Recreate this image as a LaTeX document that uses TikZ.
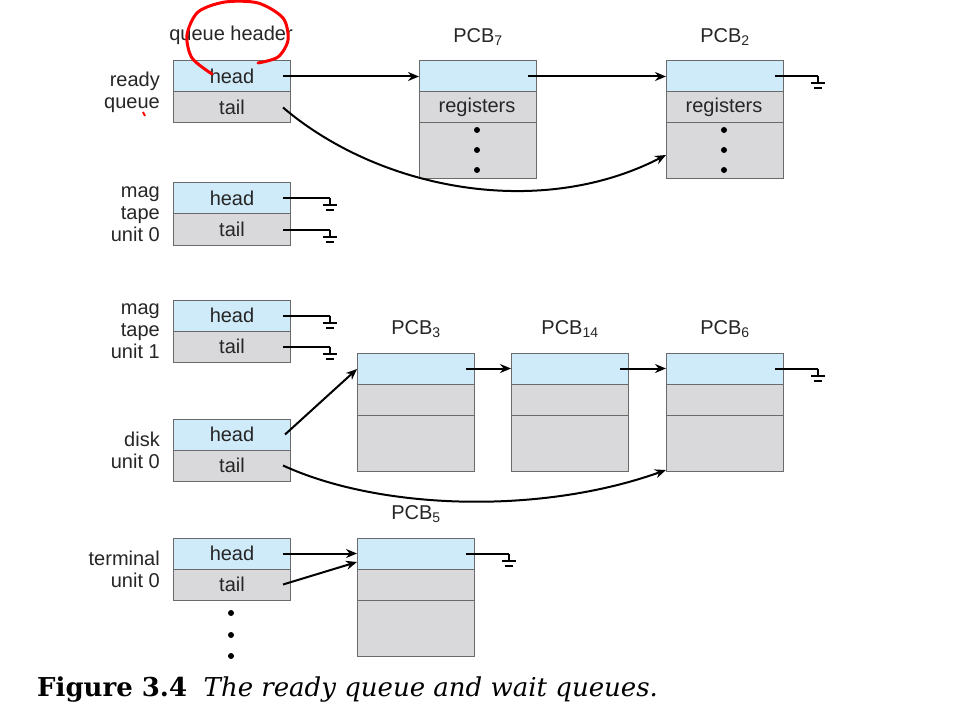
\documentclass[tikz,border=0pt]{standalone}
\usepackage{fontspec}
\setmainfont{Liberation Sans}
\newfontfamily\capfont{DejaVu Serif}
\usetikzlibrary{arrows.meta}
\definecolor{cblue}{HTML}{CFEAF8}
\definecolor{cgray}{HTML}{D9D9DC}
\definecolor{cline}{HTML}{6A6A6A}
\begin{document}
\begin{tikzpicture}[x=1pt,y=-1pt,
  cell/.style={draw=cline,line width=1pt},
  lab/.style={font=\fontsize{20}{21}\selectfont,text=black!85,inner sep=0pt},
  llab/.style={lab,anchor=east,align=right,font=\fontsize{20}{22}\selectfont},
  arr/.style={line width=2pt,-{Stealth[length=11pt,width=9pt]}},
  ln/.style={line width=2pt},
  dot/.style={circle,fill=black,inner sep=0pt,minimum size=6pt}]
\useasboundingbox (0,0) rectangle (958,714);
\fill[white] (0,0) rectangle (958,714);
% ground
\newcommand{\gnd}[1]{\draw[ln] (#1) -- ++(0,7) (#1)++(-7,7) -- ++(14,0) (#1)++(-4,12) -- ++(8,0);}
% queue headers
\newcommand{\qh}[3]{% name, x, ytop
  \fill[cblue] (#2,#3) rectangle ++(117,31);
  \fill[cgray] (#2,#3+31) rectangle ++(117,31);
  \draw[cell] (#2,#3) rectangle ++(117,62) (#2,#3+31) -- ++(117,0);
  \node[lab] (#1h) at (#2+59,#3+15.5) {head};
  \node[lab] (#1t) at (#2+59,#3+46.5) {tail};
  \coordinate (#1hs) at (#2+110,#3+15.5);
  \coordinate (#1ts) at (#2+110,#3+46.5);}
% pcb: name, x, ytop, label
\newcommand{\pcb}[4]{%
  \fill[cblue] (#2,#3) rectangle ++(117,31);
  \fill[cgray] (#2,#3+31) rectangle ++(117,87);
  \draw[cell] (#2,#3) rectangle ++(117,118) (#2,#3+31) -- ++(117,0) (#2,#3+62) -- ++(117,0);
  \node[lab] (#1n) at (#2+59,#3-24) {#4};
  \coordinate (#1s) at (#2+109,#3+15.5);
  \coordinate (#1in) at (#2,#3+15.5);}
\qh{r}{173}{61}
\qh{m}{173}{183}
\qh{n}{173}{300}
\qh{d}{173}{419}
\qh{t}{173}{538}
\node[lab] (qhead) at (231,35) {queue header};
\node[llab] (lr) at (160,92) {ready\\queue};
\node[llab] (lm) at (160,214) {mag\\tape\\unit 0};
\node[llab] (ln1) at (160,331) {mag\\tape\\unit 1};
\node[llab] (ld) at (160,450) {disk\\unit 0};
\node[llab] (lt) at (160,569) {terminal\\unit 0};
\node[dot] (d1) at (231,613) {};
\node[dot] (d2) at (231,635) {};
\node[dot] (d3) at (231,656) {};
% PCB7 and PCB2 (with registers)
\pcb{p7}{419}{61}{PCB\textsubscript{7}}
\pcb{p2}{666}{61}{PCB\textsubscript{2}}
\node[lab] (p7r) at (477,107) {registers};
\node[lab] (p2r) at (724,107) {registers};
\draw[cell] (419,179) -- (536,179);
\foreach \xx/\nm in {477/a,724/b}{
 \node[dot] (\nm1) at (\xx,130) {};
 \node[dot] (\nm2) at (\xx,150) {};
 \node[dot] (\nm3) at (\xx,170) {};}
\pcb{p3}{357}{353}{PCB\textsubscript{3}}
\pcb{p14}{511}{353}{PCB\textsubscript{14}}
\pcb{p6}{666}{353}{PCB\textsubscript{6}}
\pcb{p5}{357}{538}{PCB\textsubscript{5}}
% connectors
\draw[arr] (rhs) -- (p7in);
\draw[arr] (p7s) -- (p2in);
\draw[ln] (p2s) -- ++(43,0) coordinate (g1); \gnd{g1}
\coordinate (p2low) at (666,155);
\draw[arr] (rts) .. controls (380,190) and (540,220) .. (p2low);
\foreach \q in {m,n}{
 \draw[ln] (\q hs) -- ++(47,0) coordinate (g\q h); \gnd{g\q h}
 \draw[ln] (\q ts) -- ++(47,0) coordinate (g\q t); \gnd{g\q t}}
\coordinate (p3c) at (357,369);
\draw[arr] ([xshift=2pt]dhs) -- (p3c);
\draw[arr] (p3s) -- (p14in);
\draw[arr] (p14s) -- (p6in);
\draw[ln] (p6s) -- ++(43,0) coordinate (g6); \gnd{g6}
\coordinate (p6low) at (666,470);
\draw[arr] (dts) .. controls (380,510) and (540,515) .. (p6low);
\draw[arr] (ths) -- (p5in);
\coordinate (p5c) at (357,562);
\draw[arr] (tts) -- (p5c);
\draw[ln] (p5s) -- ++(43,0) coordinate (g5); \gnd{g5}
% hand-drawn red annotation
\draw[red,line width=3pt,line cap=round] plot[smooth] coordinates {(212,74) (192,58) (187,35) (198,12) (225,2) (258,3) (283,18) (288,40) (278,57) (258,63)};
\draw[red,line width=2pt] (143,112) -- (145,116);
% caption
\node[anchor=west,inner sep=0pt] (cap) at (37,690) {\capfont\fontsize{26}{28}\selectfont\textbf{Figure 3.4}\ \ \textit{The ready queue and wait queues.}};
\end{tikzpicture}
\end{document}
